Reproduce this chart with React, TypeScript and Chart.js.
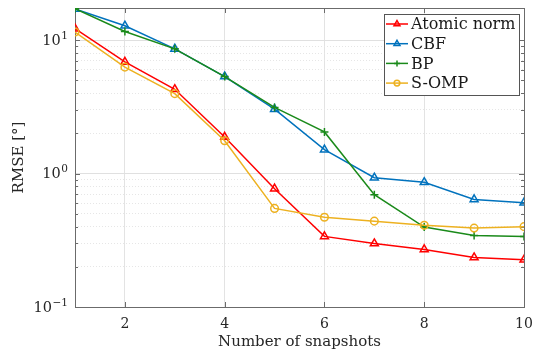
import React, { useEffect, useRef } from "react";
import { Chart, registerables } from "chart.js";

Chart.register(...registerables);

const snapshots = [1, 2, 3, 4, 5, 6, 7, 8, 9, 10];
const atomicNorm = [12.2, 6.87, 4.28, 1.88, 0.77, 0.338, 0.299, 0.27, 0.235, 0.226];
const cbf = [17.1, 12.8, 8.6, 5.33, 3.04, 1.51, 0.93, 0.86, 0.64, 0.605];
const bp = [17.2, 11.6, 8.6, 5.33, 3.13, 2.05, 0.695, 0.397, 0.344, 0.338];
const somp = [11.5, 6.27, 3.97, 1.76, 0.548, 0.47, 0.44, 0.41, 0.39, 0.4];
const seriesNames = ["Atomic norm", "CBF", "BP", "S-OMP"];
const xTickValues = [2, 4, 6, 8, 10];
const yTickValues = [
  0.1, 0.2, 0.3, 0.4, 0.5, 0.6, 0.7, 0.8, 0.9,
  1, 2, 3, 4, 5, 6, 7, 8, 9,
  10,
];
const yLabelExponents: Record<string, string> = { "0.1": "−1", "1": "0", "10": "1" };
const yLabelBase = "10";
const xMin = 1;
const xMax = 10;
const yMin = 0.1;
const yMax = 17.4;

const colors = ["#ff0000", "#0072bd", "#1a8a1a", "#edb120"];
const markers = ["triangle", "triangle", "cross", "circle"];
const markerSizes = [4.6, 4.6, 4, 3.8];
const FONT = "'DejaVu Serif', serif";
const TEXT = "#262626";

const isDecade = (v: number) => {
  const l = Math.log10(v);
  return Math.abs(l - Math.round(l)) < 1e-9;
};

function drawMarker(ctx: CanvasRenderingContext2D, style: string, x: number, y: number, r: number) {
  ctx.beginPath();
  if (style === "triangle") {
    let rad = 0;
    ctx.moveTo(x + Math.sin(rad) * r, y - Math.cos(rad) * r);
    rad += (2 * Math.PI) / 3;
    ctx.lineTo(x + Math.sin(rad) * r, y - Math.cos(rad) * r);
    rad += (2 * Math.PI) / 3;
    ctx.lineTo(x + Math.sin(rad) * r, y - Math.cos(rad) * r);
    ctx.closePath();
  } else if (style === "cross") {
    ctx.moveTo(x - r, y);
    ctx.lineTo(x + r, y);
    ctx.moveTo(x, y - r);
    ctx.lineTo(x, y + r);
  } else {
    ctx.arc(x, y, r, 0, Math.PI * 2);
  }
  ctx.stroke();
}

const boxPlugin = {
  id: "matlabBox",
  beforeDatasetsDraw(chart: any) {
    const { ctx, chartArea: a, scales } = chart;
    const xs = scales.x;
    const ys = scales.y;
    ctx.save();
    ctx.strokeStyle = "#6b6b6b";
    ctx.lineWidth = 1;
    ctx.beginPath();
    for (const v of yTickValues) {
      const py = Math.round(ys.getPixelForValue(v)) + 0.5;
      const len = isDecade(v) ? 5 : 3;
      ctx.moveTo(a.left, py);
      ctx.lineTo(a.left + len, py);
      ctx.moveTo(a.right, py);
      ctx.lineTo(a.right - len, py);
    }
    for (const v of xTickValues) {
      const px = Math.round(xs.getPixelForValue(v)) + 0.5;
      ctx.moveTo(px, a.bottom);
      ctx.lineTo(px, a.bottom - 5);
      ctx.moveTo(px, a.top);
      ctx.lineTo(px, a.top + 5);
    }
    ctx.stroke();
    ctx.strokeRect(Math.round(a.left) + 0.5, Math.round(a.top) + 0.5, Math.round(a.right - a.left), Math.round(a.bottom - a.top));

    // y tick labels with superscript exponents
    ctx.fillStyle = TEXT;
    ctx.textAlign = "right";
    for (const v of yTickValues) {
      const exp = yLabelExponents[String(v)];
      if (exp === undefined) continue;
      const py = ys.getPixelForValue(v);
      const right = a.left - 7;
      ctx.font = `10.5px ${FONT}`;
      const ew = ctx.measureText(exp).width;
      ctx.textBaseline = "alphabetic";
      ctx.fillText(exp, right, py - 1.5);
      ctx.font = `14.5px ${FONT}`;
      ctx.textBaseline = "middle";
      ctx.fillText(yLabelBase, right - ew - 0.5, py + 1);
    }
    ctx.restore();
  },
  afterDraw(chart: any) {
    const { ctx, chartArea: a } = chart;
    ctx.save();
    ctx.font = `16px ${FONT}`;
    let maxW = 0;
    for (const n of seriesNames) maxW = Math.max(maxW, ctx.measureText(n).width);
    const rowH = 19.7;
    const lineLen = 22;
    const textOff = 27;
    const w = textOff + maxW + 4;
    const h = 10 + rowH * seriesNames.length - 8;
    const right = Math.round(a.right - 5);
    const left = right - Math.round(w);
    const top = Math.round(a.top + 6);
    ctx.fillStyle = "#ffffff";
    ctx.fillRect(left, top, right - left, Math.round(h));
    ctx.strokeStyle = "#555555";
    ctx.lineWidth = 1;
    ctx.strokeRect(left + 0.5, top + 0.5, right - left, Math.round(h));
    ctx.textBaseline = "middle";
    ctx.textAlign = "left";
    seriesNames.forEach((n, i) => {
      const cy = top + 10 + i * rowH;
      ctx.strokeStyle = colors[i];
      ctx.lineWidth = 1.5;
      ctx.beginPath();
      ctx.moveTo(left + 2, cy);
      ctx.lineTo(left + 2 + lineLen, cy);
      ctx.stroke();
      drawMarker(ctx, markers[i], left + 2 + lineLen / 2, cy, markerSizes[i] * 0.75);
      ctx.fillStyle = "#1a1a1a";
      ctx.fillText(n, left + textOff, cy + 1);
    });
    ctx.restore();
  },
};

export default function App() {
  const ref = useRef<HTMLCanvasElement | null>(null);
  useEffect(() => {
    if (!ref.current) return;
    const series = [atomicNorm, cbf, bp, somp];
    const chart = new Chart(ref.current, {
      type: "line",
      data: {
        datasets: series.map((vals, i) => ({
          label: seriesNames[i],
          data: snapshots.map((x, j) => ({ x, y: vals[j] })),
          borderColor: colors[i],
          backgroundColor: colors[i],
          borderWidth: 1.5,
          pointStyle: markers[i] as any,
          pointRadius: markerSizes[i],
          pointBorderWidth: 1.5,
          pointBorderColor: colors[i],
          pointBackgroundColor: "rgba(0,0,0,0)",
          tension: 0,
          fill: false,
          order: 3 - i,
        })),
      },
      options: {
        animation: false,
        responsive: false,
        maintainAspectRatio: false,
        layout: { padding: { left: 0, right: 23, top: 8, bottom: 0 } },
        plugins: { legend: { display: false }, tooltip: { enabled: false } },
        scales: {
          x: {
            type: "linear",
            min: xMin,
            max: xMax,
            afterBuildTicks: (s: any) => {
              s.ticks = xTickValues.map((v) => ({ value: v }));
            },
            afterFit: (s: any) => {
              s.height = 45;
              s.paddingLeft = 0;
              s.paddingRight = 0;
            },
            ticks: {
              autoSkip: false,
              padding: 9,
              color: TEXT,
              font: { family: FONT, size: 14 },
              callback: (v: any) => String(v),
            },
            grid: { color: "#e3e3e3", drawTicks: false, lineWidth: 1 },
            border: { display: false },
            title: {
              display: true,
              text: "Number of snapshots",
              color: TEXT,
              font: { family: FONT, size: 15 },
              padding: { top: 0, bottom: 1 },
            },
          },
          y: {
            type: "logarithmic",
            min: yMin,
            max: yMax,
            afterBuildTicks: (s: any) => {
              s.ticks = yTickValues.map((v) => ({ value: v, major: isDecade(v) }));
            },
            afterFit: (s: any) => {
              s.width = 75;
              s.paddingTop = 0;
              s.paddingBottom = 0;
            },
            ticks: {
              autoSkip: false,
              padding: 7,
              color: TEXT,
              font: { family: FONT, size: 14 },
              callback: () => "",
            },
            grid: {
              drawTicks: false,
              lineWidth: 1,
              color: (c: any) => (c.tick && !isDecade(c.tick.value) ? "#e6e6e6" : "#e0e0e0"),
            },
            border: {
              display: false,
              dash: (c: any) => (c.tick && !isDecade(c.tick.value) ? [1, 2] : []),
            } as any,
            title: {
              display: true,
              text: "RMSE [°]",
              color: TEXT,
              font: { family: FONT, size: 15 },
              padding: { top: 10, bottom: 0 },
            },
          },
        },
      },
      plugins: [boxPlugin],
    });
    return () => chart.destroy();
  }, []);
  return (
    <div style={{ position: "absolute", left: 0, top: 0, width: 547, height: 352, background: "#fff" }}>
      <canvas ref={ref} width={547} height={352} style={{ width: 547, height: 352, display: "block" }} />
    </div>
  );
}
